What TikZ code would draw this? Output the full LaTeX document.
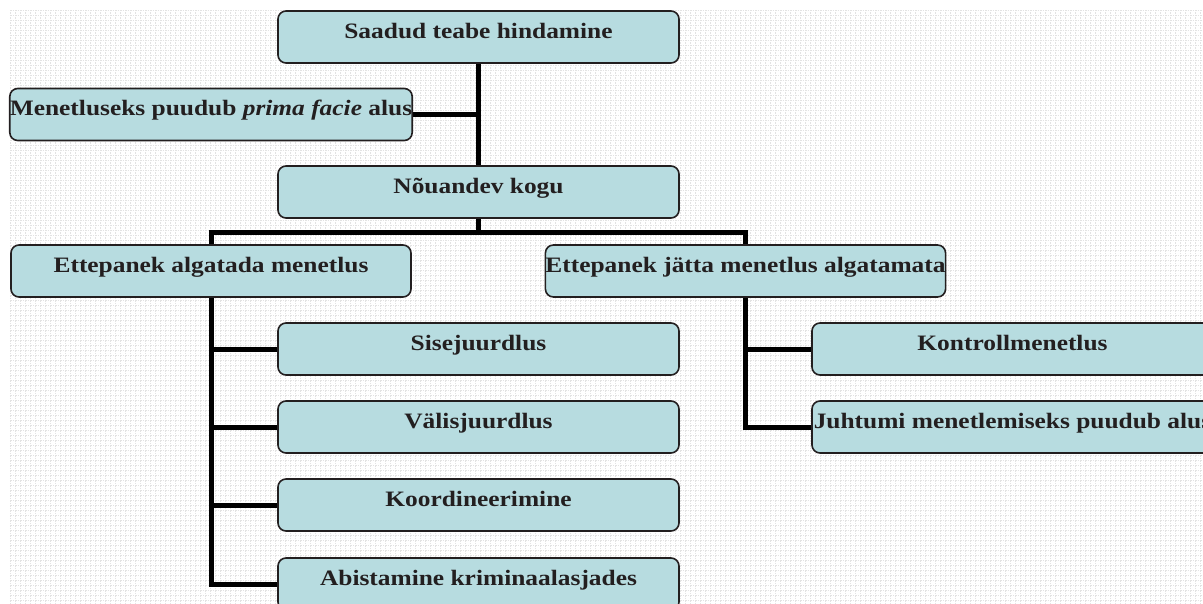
\documentclass[tikz,border=0pt]{standalone}
\usepackage{fontspec}
\setmainfont{Liberation Serif}[FakeStretch=1.155]
\pgfdeclarelayer{bg}
\pgfdeclarelayer{grid}
\pgfsetlayers{grid,bg,main}
\definecolor{boxfill}{HTML}{B7DCE0}
\definecolor{txt}{HTML}{231F20}
\tikzset{
  box/.style={draw=txt, line width=1.6pt, fill=boxfill, rounded corners=8pt,
    minimum width=401pt, minimum height=52pt, inner sep=0pt,
    font=\bfseries\fontsize{22}{26}\selectfont, text=txt,
    text height=14pt, text depth=11pt},
  conn/.style={line width=5pt, black, line join=miter},
  gridline/.style={gray!22, line width=0.6pt, dash pattern=on 1.5pt off 1pt}
}
\begin{document}
\begin{tikzpicture}[x=1pt,y=-1pt]
\useasboundingbox (0,0) rectangle (1203,604);
\clip (0,0) rectangle (1203,604);
\begin{pgfonlayer}{grid}
  \foreach \gx in {10,15,...,1203} {\draw[gridline] (\gx,10) -- (\gx,604);}
  \foreach \gy in {10,15,...,604} {\draw[gridline] (10,\gy) -- (1203,\gy);}
\end{pgfonlayer}

\node[box] (s1) at (478.5,37) {Saadud teabe hindamine};
\node[box, minimum width=400pt] (m1) at (211,114.5) {Menetluseks puudub \textit{prima facie} alus};
\node[box] (n1) at (478.5,192) {Nõuandev kogu};
\node[box, minimum width=400pt] (e1) at (211,271) {Ettepanek algatada menetlus};
\node[box, minimum width=399pt] (e2) at (745.5,271) {Ettepanek jätta menetlus algatamata};
\node[box] (c1) at (478.5,349) {Sisejuurdlus};
\node[box] (c2) at (478.5,427) {Välisjuurdlus};
\node[box] (c3) at (478.5,505) {Koordineerimine};
\node[box] (c4) at (478.5,584) {Abistamine kriminaalasjades};
\node[box] (k1) at (1012.5,349) {Kontrollmenetlus};
\node[box] (k2) at (1012.5,427) {Juhtumi menetlemiseks puudub alus};
\coordinate (bar) at (478.5,233);

\begin{pgfonlayer}{bg}
  \draw[conn] (s1) -- (n1);
  \draw[conn] (m1.east) -- (m1.east -| s1.south);
  \draw[conn] (n1.south) -- (bar);
  \draw[conn] (e1.north) -- (e1.north |- bar) -- (e2.north |- bar) -- (e2.north);
  \draw[conn] (e1.south) |- (c4.west);
  \draw[conn] (e1.south |- c1.west) -- (c1.west);
  \draw[conn] (e1.south |- c2.west) -- (c2.west);
  \draw[conn] (e1.south |- c3.west) -- (c3.west);
  \draw[conn] (e2.south) |- (k2.west);
  \draw[conn] (e2.south |- k1.west) -- (k1.west);
\end{pgfonlayer}
\end{tikzpicture}
\end{document}
